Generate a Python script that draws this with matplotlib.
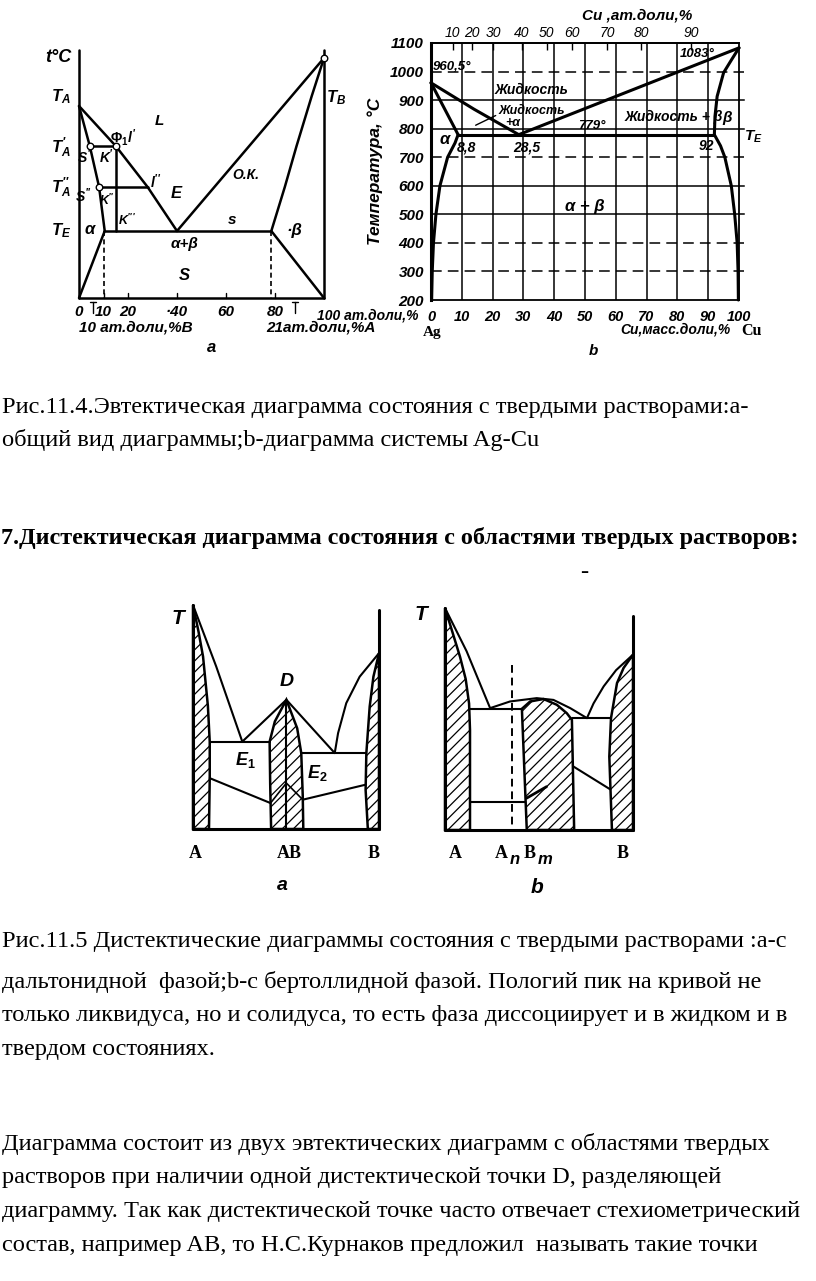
import matplotlib.pyplot as plt

W, H = 816, 1281

plt.rcParams['mathtext.fontset'] = 'custom'
plt.rcParams['mathtext.it'] = 'Liberation Sans:italic:bold'
plt.rcParams['mathtext.rm'] = 'Liberation Sans:bold'
plt.rcParams['mathtext.bf'] = 'Liberation Sans:bold'
plt.rcParams['hatch.linewidth'] = 0.9

# ---------- Fig. 11.4a: general eutectic diagram (x: at.% B, y: relative temperature)
a_liq_left_x = [0, 15, 28, 40]
a_liq_left_y = [192, 152, 111, 67]
a_sol_left_x = [0, 4.4, 8.2, 10.5]
a_sol_left_y = [192, 152, 111, 67]
a_solv_left_x = [10.5, 0]
a_solv_left_y = [67, 0]
a_liq_right_x = [40, 100]
a_liq_right_y = [67, 240]
a_sol_right_x = [100, 95, 88.8, 84, 78.5]
a_sol_right_y = [240, 202, 152, 111, 67]
a_solv_right_x = [78.5, 100]
a_solv_right_y = [67, 0]
a_eut_x = [10.5, 78.5]
a_eut_y = 67
a_tie_x = [[4.4, 15], [8.2, 28]]
a_tie_y = [152, 111]
a_circle_x = [4.4, 15, 8.2, 100]
a_circle_y = [152, 152, 111, 240]
a_dash_x = [10, 78.5]
a_ticks = [10, 20, 40, 60, 80]
a_tick_labels = ['0', '10', '20', '·40', '60', '80', '100 ат.доли,%']
a_tick_label_x = [0, 10, 20, 40, 60, 80, 100]

# ---------- Fig. 11.4b: Ag-Cu system (x: wt.% Cu, y: °C)
b_liq_left_x = [0, 14, 28.5]
b_liq_left_y = [960.5, 868, 779]
b_liq_right_x = [28.5, 100]
b_liq_right_y = [779, 1083]
b_sol_left_x = [0, 8.8]
b_sol_left_y = [960.5, 779]
b_solv_left_x = [8.8, 7.8, 5.4, 2.9, 1.6, 0.8, 0.4, 0.2]
b_solv_left_y = [779, 750, 700, 600, 500, 400, 300, 200]
b_sol_right_x = [100, 97.5, 95, 92.9, 92.2, 92]
b_sol_right_y = [1083, 1040, 996, 913, 843, 779]
b_solv_right_x = [92, 94, 95.4, 97.5, 98.6, 99.4, 99.7, 99.8]
b_solv_right_y = [779, 740, 700, 600, 500, 400, 300, 200]
b_eut_x = [8.8, 92]
b_eut_y = 779
b_xticks = [0, 10, 20, 30, 40, 50, 60, 70, 80, 90, 100]
b_xtick_labels = ['0', '10', '20', '30', '40', '50', '60', '70', '80', '90', '100']
b_yticks = [200, 300, 400, 500, 600, 700, 800, 900, 1000, 1100]
b_grid_dashed = [300, 400, 700, 1000]
b_top_pos = [7.0, 13.2, 20.2, 29.4, 37.5, 45.9, 57.2, 68.3, 84.5]
b_top_labels = ['10', '20', '30', '40', '50', '60', '70', '80', '90']

# ---------- Fig. 11.5a: distectic diagram with daltonide phase
da_alpha_x = [0, 3, 5.4, 8, 9, 9, 8.6]
da_alpha_y = [100, 88, 77, 55, 39, 23, 0]
da_liq_left_x = [0, 12.5, 26.5]
da_liq_left_y = [100, 72.5, 39]
da_e1_x = [9, 41.2]
da_e1_y = 39
da_liq_mid_x = [26.5, 50.2, 76.2]
da_liq_mid_y = [39, 57.7, 33.9]
da_comp_left_x = [50.2, 44, 41.2, 41.5, 42]
da_comp_left_y = [57.7, 48, 39, 20, 0]
da_comp_right_x = [50.2, 56, 58.2, 59, 59.3]
da_comp_right_y = [57.7, 45, 33.9, 15, 0]
da_inner_x = [41.7, 50.2, 59]
da_inner_y = [11.6, 20.5, 13.1]
da_e2_x = [58.2, 93.2]
da_e2_y = 33.9
da_liq_right_x = [76.2, 78, 82.4, 89.6, 100]
da_liq_right_y = [33.9, 42.8, 56.2, 68, 78.5]
da_beta_x = [100, 97, 95, 93.2, 92.8, 94]
da_beta_y = [78.5, 68, 54.7, 33.9, 17.5, 0]
da_solv_left_x = [9, 41.6]
da_solv_left_y = [22.7, 11.6]
da_solv_right_x = [92.9, 59.1]
da_solv_right_y = [19.8, 13.1]

# ---------- Fig. 11.5b: distectic diagram with berthollide phase
db_alpha_x = [0, 4, 8, 11, 12.8, 13.3, 13.3]
db_alpha_y = [100, 89, 78, 68, 57, 45, 0]
db_liq_left_x = [0, 11.5, 24]
db_liq_left_y = [100, 80.5, 54.9]
db_e1_x = [13.3, 40.9]
db_e1_y = 54.6
db_liq_dome_x = [24, 34.6, 48.8, 57.7, 66.6, 75.5]
db_liq_dome_y = [54.9, 57.9, 59.4, 58.6, 54.9, 50.4]
db_comp_x = [43.5, 40.9, 45.3, 52.4, 59.5, 64.8, 67.5, 68.7]
db_comp_y = [0, 54.6, 57.9, 59.0, 56.4, 52.6, 49.6, 0]
db_e2_x = [67.8, 87.9]
db_e2_y = 50.4
db_liq_right_x = [75.5, 79, 84.4, 91, 100]
db_liq_right_y = [50.4, 57, 64.7, 72, 79]
db_beta_x = [100, 95, 91.5, 88.3, 87.4, 88.8]
db_beta_y = [79, 73, 66.2, 50.4, 33.1, 0]
db_low_left_x = [13.3, 42.6]
db_low_left_y = [12.8, 12.8]
db_low_right_x = [68.3, 87.9]
db_low_right_y = [28.6, 18.3]
db_inner_x = [43.3, 54]
db_inner_y = [14.3, 19.5]
db_dash_x = 35.5
db_dash_top = 74.4

# ---------- page text
caption_114 = ['Рис.11.4.Эвтектическая диаграмма состояния с твердыми растворами:а-',
               'общий вид диаграммы;b-диаграмма системы Ag-Cu']
caption_114_y = [407, 440]
heading = '7.Дистектическая диаграмма состояния с областями твердых растворов:'
heading_y = 538
caption_115 = ['Рис.11.5 Дистектические диаграммы состояния с твердыми растворами :а-с',
               'дальтонидной  фазой;b-с бертоллидной фазой. Пологий пик на кривой не',
               'только ликвидуса, но и солидуса, то есть фаза диссоциирует и в жидком и в',
               'твердом состояниях.']
caption_115_y = [942, 982, 1015, 1049]
paragraph = ['Диаграмма состоит из двух эвтектических диаграмм с областями твердых',
             'растворов при наличии одной дистектической точки D, разделяющей',
             'диаграмму. Так как дистектической точке часто отвечает стехиометрический',
             'состав, например AB, то Н.С.Курнаков предложил  называть такие точки']
paragraph_y = [1144, 1178, 1212, 1246]

fig = plt.figure(figsize=(W / 100, H / 100), dpi=100)
fig.patch.set_facecolor('white')


def px_axes(x0, y0, x1, y1):
    ax = fig.add_axes([x0 / W, 1 - y1 / H, (x1 - x0) / W, (y1 - y0) / H])
    return ax


def line(ax, x, y, lw=1.8, **kw):
    ax.plot(x, y, color='black', lw=lw, clip_on=False,
            solid_joinstyle='round', solid_capstyle='round', **kw)


LAB = dict(family='Liberation Sans', style='italic', weight='bold', color='black')
SER = dict(family='Liberation Serif', weight='bold', color='black')

# ================= Fig. 11.4a =================
ax = px_axes(79, 50, 324, 298)
ax.set_xlim(0, 100)
ax.set_ylim(0, 248)
ax.axis('off')
line(ax, [0, 0], [0, 248])
line(ax, [100, 100], [0, 248])
line(ax, [0, 100], [0, 0])
line(ax, a_liq_left_x, a_liq_left_y)
line(ax, a_sol_left_x, a_sol_left_y)
line(ax, a_solv_left_x, a_solv_left_y)
line(ax, a_liq_right_x, a_liq_right_y)
line(ax, a_sol_right_x, a_sol_right_y)
line(ax, a_solv_right_x, a_solv_right_y)
line(ax, a_eut_x, [a_eut_y, a_eut_y])
for tx, ty in zip(a_tie_x, a_tie_y):
    line(ax, tx, [ty, ty])
line(ax, [a_tie_x[0][1], a_tie_x[0][1]], [a_tie_y[0], a_eut_y])
for dx_ in a_dash_x:
    ax.plot([dx_, dx_], [a_eut_y, 0], color='black', lw=1.2, ls=(0, (3, 2)), clip_on=False)
ax.scatter(a_circle_x, a_circle_y, s=22, facecolor='white', edgecolor='black',
           linewidth=1.0, zorder=5, clip_on=False)
for tx in a_ticks:
    line(ax, [tx, tx], [0, 5], lw=1.0)
for tx in [5.7, 88]:
    line(ax, [tx, tx], [-4, -15], lw=1.0)
    line(ax, [tx - 1.2, tx + 1.2], [-4, -4], lw=1.0)
for tx, tl in zip(a_tick_label_x, a_tick_labels):
    if tl.startswith('100'):
        ax.text(tx - 3, -17, tl, ha='left', va='center', fontsize=10, **LAB)
    else:
        ax.text(tx, -14, tl, ha='center', va='center', fontsize=11, **LAB)
ax.text(0, -30, '10 ат.доли,%B', ha='left', va='center', fontsize=11, **LAB)
ax.text(76.5, -30, '21ат.доли,%A', ha='left', va='center', fontsize=11, **LAB)
ax.text(54, -50, 'а', ha='center', va='center', fontsize=12, **LAB)
ax.text(-8.5, 241, 't°C', ha='center', va='center', fontsize=13, **LAB)
ax.text(-7.5, 201, r'$T_A$', ha='center', va='center', fontsize=12)
ax.text(-7.5, 150, r"$T_A^{\prime}$", ha='center', va='center', fontsize=12)
ax.text(-7.5, 110, r"$T_A^{\prime\prime}$", ha='center', va='center', fontsize=12)
ax.text(-7.5, 67, r'$T_E$', ha='center', va='center', fontsize=12)
ax.text(105, 200, r'$T_B$', ha='center', va='center', fontsize=12)
ax.text(33, 177, 'L', ha='center', va='center', fontsize=11, **LAB)
ax.text(12.5, 160, r"$\Phi_1 l^{\prime}$", ha='left', va='center', fontsize=10)
ax.text(2.3, 141, r"$S^{\prime}$", ha='center', va='center', fontsize=10)
ax.text(11.3, 141, r"$K^{\prime}$", ha='center', va='center', fontsize=10)
ax.text(1.8, 102, r"$S^{\prime\prime}$", ha='center', va='center', fontsize=10)
ax.text(11.5, 98, r"$K^{\prime\prime}$", ha='center', va='center', fontsize=9)
ax.text(19.5, 78, r"$K^{\prime\prime\prime}$", ha='center', va='center', fontsize=9)
ax.text(31.5, 116, r"$l^{\prime\prime}$", ha='center', va='center', fontsize=10)
ax.text(39.5, 104, 'E', ha='center', va='center', fontsize=12, **LAB)
ax.text(4.5, 68, 'α', ha='center', va='center', fontsize=12, **LAB)
ax.text(68, 123, 'О.К.', ha='center', va='center', fontsize=10, **LAB)
ax.text(62.5, 78, 's', ha='center', va='center', fontsize=11, **LAB)
ax.text(88, 68, '·β', ha='center', va='center', fontsize=12, **LAB)
ax.text(43, 54, 'α+β', ha='center', va='center', fontsize=11, **LAB)
ax.text(43, 22, 'S', ha='center', va='center', fontsize=12, **LAB)

# ================= Fig. 11.4b: Ag-Cu =================
bx = px_axes(431, 43, 739, 300)
bx.set_xlim(0, 100)
bx.set_ylim(200, 1100)
for s in bx.spines.values():
    s.set_linewidth(1.3)
bx.spines['left'].set_linewidth(2.2)
for gx in b_xticks[1:-1]:
    bx.axvline(gx, color='black', lw=1.1)
for gy in b_yticks[1:-1]:
    ls = (0, (7, 4)) if gy in b_grid_dashed else '-'
    bx.plot([0, 101.5], [gy, gy], color='black', lw=1.1, ls=ls, clip_on=False)
bx.set_xticks(b_xticks, b_xtick_labels)
bx.set_yticks(b_yticks, [str(v) for v in b_yticks])
bx.tick_params(axis='y', length=0, pad=5)
bx.tick_params(axis='x', length=0, pad=7)
for t in bx.get_yticklabels():
    t.set_fontfamily('Liberation Sans')
    t.set_fontstyle('italic')
    t.set_fontweight('bold')
    t.set_fontsize(11)
for t in bx.get_xticklabels():
    t.set_fontfamily('Liberation Sans')
    t.set_fontstyle('italic')
    t.set_fontweight('bold')
    t.set_fontsize(10.5)
sec = bx.secondary_xaxis('top')
sec.set_xticks(b_top_pos, b_top_labels)
sec.tick_params(direction='in', length=5, width=1, pad=2)
for t in sec.get_xticklabels():
    t.set_fontfamily('Liberation Sans')
    t.set_fontstyle('italic')
    t.set_fontsize(10)
sec.spines['top'].set_linewidth(1.3)
bx.set_ylabel('Температура, °С', fontsize=12.5, family='Liberation Sans',
              style='italic', weight='bold')
bx.yaxis.set_label_coords(-0.155, 0.5)
line(bx, b_liq_left_x, b_liq_left_y, lw=2.2)
line(bx, b_liq_right_x, b_liq_right_y, lw=2.2)
line(bx, b_sol_left_x, b_sol_left_y, lw=2.2)
line(bx, b_solv_left_x, b_solv_left_y, lw=2.2)
line(bx, b_sol_right_x, b_sol_right_y, lw=2.2)
line(bx, b_solv_right_x, b_solv_right_y, lw=2.2)
line(bx, b_eut_x, [b_eut_y, b_eut_y], lw=2.2)
line(bx, [14.5, 21], [812, 846], lw=1.0)
bx.text(0.7, 1017, '960,5°', ha='left', va='center', fontsize=9.5, **LAB)
bx.text(80.8, 1062, '1083°', ha='left', va='center', fontsize=9.5, **LAB)
bx.text(20.8, 935, 'Жидкость', ha='left', va='center', fontsize=10, **LAB)
bx.text(21.8, 861, 'Жидкость', ha='left', va='center', fontsize=9, **LAB)
bx.text(24, 819, '+α', ha='left', va='center', fontsize=9, **LAB)
bx.text(47.7, 810, '779°', ha='left', va='center', fontsize=9.5, **LAB)
bx.text(63, 840, 'Жидкость + β', ha='left', va='center', fontsize=10, **LAB)
bx.text(96, 838, 'β', ha='center', va='center', fontsize=11, **LAB)
bx.text(104.5, 770, r'$T_E$', ha='center', va='center', fontsize=11)
bx.text(4.5, 761, 'α', ha='center', va='center', fontsize=12, **LAB)
bx.text(8.4, 735, '8,8', ha='left', va='center', fontsize=10, **LAB)
bx.text(26.6, 735, '28,5', ha='left', va='center', fontsize=10, **LAB)
bx.text(87, 740, '92', ha='left', va='center', fontsize=10, **LAB)
bx.text(50, 527, 'α + β', ha='center', va='center', fontsize=12, **LAB)
bx.text(-2.8, 86, 'Ag', ha='left', va='center', fontsize=11, **SER)
bx.text(79.5, 97, 'Cu,масс.доли,%', ha='center', va='center', fontsize=10, **LAB)
bx.text(104, 93, 'Cu', ha='center', va='center', fontsize=11.5, **SER)
bx.text(67, 1196, 'Cu ,ат.доли,%', ha='center', va='center', fontsize=11, **LAB)
bx.text(52.6, 22, 'b', ha='center', va='center', fontsize=11, **LAB)

# ================= Fig. 11.5a =================
cx = px_axes(193, 605, 379, 829)
cx.set_xlim(0, 100)
cx.set_ylim(0, 100)
cx.axis('off')
cx.fill(da_alpha_x + [0], da_alpha_y + [0], facecolor='white', edgecolor='black',
        hatch='///', lw=1.8, clip_on=False)
cx.fill(da_beta_x + [100], da_beta_y + [0], facecolor='white', edgecolor='black',
        hatch='///', lw=1.8, clip_on=False)
cx.fill(da_comp_left_x[::-1] + da_comp_right_x, da_comp_left_y[::-1] + da_comp_right_y,
        facecolor='white', edgecolor='black', hatch='///', lw=1.8, clip_on=False)
line(cx, [0, 0], [0, 100], lw=2.2)
line(cx, [100, 100], [0, 97.8], lw=2.2)
line(cx, [0, 100], [0, 0], lw=2.2)
line(cx, da_liq_left_x, da_liq_left_y, lw=1.5)
line(cx, da_e1_x, [da_e1_y, da_e1_y], lw=1.5)
line(cx, da_liq_mid_x, da_liq_mid_y, lw=1.5)
line(cx, da_e2_x, [da_e2_y, da_e2_y], lw=1.5)
line(cx, da_liq_right_x, da_liq_right_y, lw=1.5)
line(cx, da_solv_left_x, da_solv_left_y, lw=1.5)
line(cx, da_solv_right_x, da_solv_right_y, lw=1.5)
line(cx, [50.2, 50.2], [57.7, 0], lw=1.5)
line(cx, da_inner_x, da_inner_y, lw=1.2)
cx.text(-8, 94, 'T', ha='center', va='center', fontsize=15, **LAB)
cx.text(50.5, 66, 'D', ha='center', va='center', fontsize=14, **LAB)
cx.text(28, 31, r'$E_1$', ha='center', va='center', fontsize=13)
cx.text(67, 25, r'$E_2$', ha='center', va='center', fontsize=13)
cx.text(1, -11, 'A', ha='center', va='center', fontsize=13, **SER)
cx.text(52, -11, 'AB', ha='center', va='center', fontsize=13, **SER)
cx.text(97, -11, 'B', ha='center', va='center', fontsize=13, **SER)
cx.text(48, -25, 'а', ha='center', va='center', fontsize=14, **LAB)

# ================= Fig. 11.5b =================
dx = px_axes(445, 608, 633, 830)
dx.set_xlim(0, 100)
dx.set_ylim(0, 100)
dx.axis('off')
dx.fill(db_alpha_x + [0], db_alpha_y + [0], facecolor='white', edgecolor='black',
        hatch='///', lw=1.8, clip_on=False)
dx.fill(db_beta_x + [100], db_beta_y + [0], facecolor='white', edgecolor='black',
        hatch='///', lw=1.8, clip_on=False)
dx.fill(db_comp_x, db_comp_y, facecolor='white', edgecolor='black',
        hatch='///', lw=1.8, clip_on=False)
line(dx, [0, 0], [0, 100], lw=2.2)
line(dx, [100, 100], [0, 96.2], lw=2.2)
line(dx, [0, 100], [0, 0], lw=2.2)
line(dx, db_liq_left_x, db_liq_left_y, lw=1.5)
line(dx, db_e1_x, [db_e1_y, db_e1_y], lw=1.5)
line(dx, db_liq_dome_x, db_liq_dome_y, lw=1.5)
line(dx, db_e2_x, [db_e2_y, db_e2_y], lw=1.5)
line(dx, db_liq_right_x, db_liq_right_y, lw=1.5)
line(dx, db_low_left_x, db_low_left_y, lw=1.5)
line(dx, db_low_right_x, db_low_right_y, lw=1.5)
line(dx, db_inner_x, db_inner_y, lw=2.0)
dx.plot([db_dash_x, db_dash_x], [db_dash_top, 0], color='black', lw=1.4,
        ls=(0, (4, 2.5)), clip_on=False)
dx.text(-13, 97, 'T', ha='center', va='center', fontsize=15, **LAB)
dx.text(5.3, -10.5, 'A', ha='center', va='center', fontsize=13, **SER)
dx.text(30, -10.5, 'A', ha='center', va='center', fontsize=13, **SER)
dx.text(37, -13.5, 'n', ha='center', va='center', fontsize=12, **LAB)
dx.text(45, -10.5, 'B', ha='center', va='center', fontsize=13, **SER)
dx.text(53, -13.5, 'm', ha='center', va='center', fontsize=12, **LAB)
dx.text(94.7, -10.5, 'B', ha='center', va='center', fontsize=13, **SER)
dx.text(49, -26, 'b', ha='center', va='center', fontsize=15, **LAB)

# ================= page text =================
BODY = dict(family='Liberation Serif', fontsize=17.6, color='black', va='center', ha='left')
for s, y in zip(caption_114, caption_114_y):
    fig.text(2 / W, 1 - y / H, s, **BODY)
fig.text(1 / W, 1 - heading_y / H, heading, weight='bold',
         **{**BODY, 'fontsize': 17.4})
fig.text(580 / W, 1 - 572 / H, '-', **BODY)
for s, y in zip(caption_115, caption_115_y):
    fig.text(2 / W, 1 - y / H, s, **BODY)
for s, y in zip(paragraph, paragraph_y):
    fig.text(2 / W, 1 - y / H, s, **BODY)

fig.savefig('out.png', dpi=100, facecolor='white')
